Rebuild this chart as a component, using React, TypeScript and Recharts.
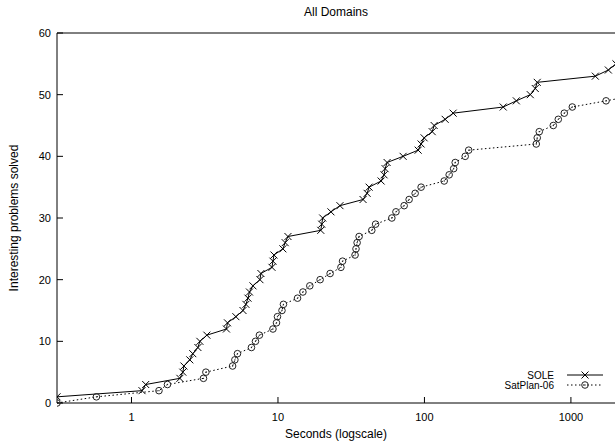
import React from 'react';
import { LineChart, Line, XAxis, YAxis, Legend, Label } from 'recharts';

const FONT = '"Liberation Sans", Arial, Helvetica, sans-serif';

// seconds (log scale) at which each problem count was reached
const soleTimes = [
  0.31, 1.18, 1.25, 2.14, 2.24, 2.28, 2.5, 2.62, 2.84, 2.93, 3.27, 4.45, 4.52, 5.16, 5.77,
  6.04, 6.24, 6.39, 6.75, 7.53, 7.65, 9.1, 9.24, 9.39, 10.8, 11.2, 11.7, 19.6, 19.9, 20.2,
  23.0, 26.5, 38.1, 40.6, 41.9, 50.6, 53.0, 53.9, 55.6, 71.5, 90.6, 94.9, 99.5, 113, 116.5,
  138.5, 157, 345, 424, 528, 571, 589, 1468, 1802, 2030,
];
const soleSolved = [
  1, 2, 3, 4, 5, 6, 7, 8, 9, 10, 11, 12, 13, 14, 15, 16, 17, 18, 19, 20, 21, 22, 23, 24, 25,
  26, 27, 28, 29, 30, 31, 32, 33, 34, 35, 36, 37, 38, 39, 40, 41, 42, 43, 44, 45, 46, 47, 48,
  49, 50, 51, 52, 53, 54, 55,
];

const satplanTimes = [
  0.31, 0.576, 1.54, 1.76, 3.1, 3.22, 4.9, 5.08, 5.29, 6.59, 7.02, 7.47, 9.24, 9.77, 9.92,
  10.65, 10.9, 13.6, 14.8, 16.5, 19.4, 22.7, 26.9, 27.6, 33.6, 34.1, 34.7, 35.8, 43.7, 46.4,
  59.9, 63.9, 72.7, 78.6, 86.4, 94.9, 136.4, 147.5, 158.3, 162.2, 189.8, 200.5, 580, 589, 608,
  758, 820, 901, 1022, 1738, 2900,
];
const satplanSolved = [
  0, 1, 2, 3, 4, 5, 6, 7, 8, 9, 10, 11, 12, 13, 14, 15, 16, 17, 18, 19, 20, 21, 22, 23, 24,
  25, 26, 27, 28, 29, 30, 31, 32, 33, 34, 35, 36, 37, 38, 39, 40, 41, 42, 43, 44, 45, 46, 47,
  48, 49, 50,
];

const xMajorTicks = [1, 10, 100, 1000];
const xMinorTicks = [0.5, 0.8, 2, 5, 8, 20, 50, 80, 200, 500, 800];
const yTicks = [0, 10, 20, 30, 40, 50, 60];

const soleData = soleTimes.map((t, i) => ({ t, n: soleSolved[i] }));
const satplanData = satplanTimes.map((t, i) => ({ t, n: satplanSolved[i] }));

const X_DOMAIN: [number, number] = [0.31, 2000];

const CrossDot = (props: any) => {
  const { cx, cy, index } = props;
  if (cx == null || cy == null) return <g key={index} />;
  const s = 3.5;
  return (
    <path
      key={index}
      d={`M${cx - s},${cy - s}L${cx + s},${cy + s}M${cx - s},${cy + s}L${cx + s},${cy - s}`}
      stroke="#000"
      strokeWidth={1}
      fill="none"
    />
  );
};

const CircleDot = (props: any) => {
  const { cx, cy, index } = props;
  if (cx == null || cy == null) return <g key={index} />;
  return (
    <g key={index}>
      <circle cx={cx} cy={cy} r={3.3} fill="none" stroke="#222" strokeWidth={1} />
      <circle cx={cx} cy={cy} r={0.7} fill="#222" />
    </g>
  );
};

const DASH: Record<string, string | undefined> = { SOLE: undefined, 'SatPlan-06': '1.5 2.5' };

const LegendBox = ({ payload }: any) => (
  <svg width={150} height={22} style={{ display: 'block' }}>
    {(payload || []).map((entry: any, i: number) => {
      const y = 6 + i * 10;
      return (
        <g key={entry.value}>
          <text x={84} y={y} textAnchor="end" dominantBaseline="central" fontSize={10} fontFamily={FONT} fill="#000">
            {entry.value}
          </text>
          <line x1={97} x2={133} y1={y} y2={y} stroke="#000" strokeDasharray={DASH[entry.value]} />
          {i === 0 ? <CrossDot cx={115} cy={y} index={0} /> : <CircleDot cx={115} cy={y} index={1} />}
        </g>
      );
    })}
  </svg>
);

const YTitle = ({ viewBox }: any) => {
  const cx = 14;
  const cy = viewBox ? viewBox.y + viewBox.height / 2 : 218;
  return (
    <text
      x={cx}
      y={cy}
      transform={`rotate(-90 ${cx} ${cy})`}
      textAnchor="middle"
      dominantBaseline="central"
      fontSize={12}
      fontFamily={FONT}
      fill="#000"
    >
      Interesting problems solved
    </text>
  );
};

const tickStyle = { fill: '#000', fontSize: 11, fontFamily: FONT };

export default function App() {
  return (
    <div style={{ position: 'absolute', left: 0, top: 0, width: 615, height: 443, background: '#fff' }}>
      <LineChart width={615} height={443} margin={{ top: 31, right: -1, bottom: 38, left: 56 }}>
        {/* bottom: labelled decades + minor ticks */}
        <XAxis
          xAxisId="x"
          dataKey="t"
          type="number"
          scale="log"
          domain={X_DOMAIN}
          allowDataOverflow
          ticks={xMajorTicks}
          height={1}
          tickSize={-6}
          tickMargin={16}
          tick={tickStyle}
          stroke="#000"
        >
          <Label value="Seconds (logscale)" position="bottom" offset={25} fontSize={12} fontFamily={FONT} fill="#000" />
        </XAxis>
        <XAxis
          xAxisId="xm"
          dataKey="t"
          type="number"
          scale="log"
          domain={X_DOMAIN}
          allowDataOverflow
          ticks={xMinorTicks}
          height={1}
          tickSize={-4}
          tick={false}
          axisLine={false}
          stroke="#000"
        />
        {/* top mirror ticks */}
        <XAxis
          xAxisId="xt"
          orientation="top"
          dataKey="t"
          type="number"
          scale="log"
          domain={X_DOMAIN}
          allowDataOverflow
          ticks={xMajorTicks}
          height={1}
          tickSize={-6}
          tick={false}
          stroke="#000"
        >
          <Label value="All Domains" position="top" offset={16} fontSize={12} fontFamily={FONT} fill="#000" />
        </XAxis>
        <XAxis
          xAxisId="xtm"
          orientation="top"
          dataKey="t"
          type="number"
          scale="log"
          domain={X_DOMAIN}
          allowDataOverflow
          ticks={xMinorTicks}
          height={1}
          tickSize={-4}
          tick={false}
          axisLine={false}
          stroke="#000"
        />
        <YAxis
          yAxisId="y"
          type="number"
          domain={[0, 60]}
          ticks={yTicks}
          width={1}
          tickSize={-6}
          tickMargin={12}
          tick={tickStyle}
          stroke="#000"
        >
          <Label content={YTitle} />
        </YAxis>
        <YAxis
          yAxisId="yr"
          orientation="right"
          type="number"
          domain={[0, 60]}
          ticks={yTicks}
          width={1}
          tickSize={-6}
          tick={false}
          axisLine={false}
          stroke="#000"
        />
        <Legend
          layout="vertical"
          align="center"
          verticalAlign="middle"
          content={LegendBox}
          wrapperStyle={{ left: 470, top: 369, width: 150 }}
        />
        <Line
          xAxisId="x"
          yAxisId="y"
          data={soleData}
          dataKey="n"
          name="SOLE"
          type="linear"
          stroke="#000"
          strokeWidth={1}
          dot={CrossDot}
          activeDot={false}
          isAnimationActive={false}
        />
        <Line
          xAxisId="x"
          yAxisId="y"
          data={satplanData}
          dataKey="n"
          name="SatPlan-06"
          type="linear"
          stroke="#000"
          strokeWidth={1}
          strokeDasharray={DASH['SatPlan-06']}
          dot={CircleDot}
          activeDot={false}
          isAnimationActive={false}
        />
      </LineChart>
    </div>
  );
}
